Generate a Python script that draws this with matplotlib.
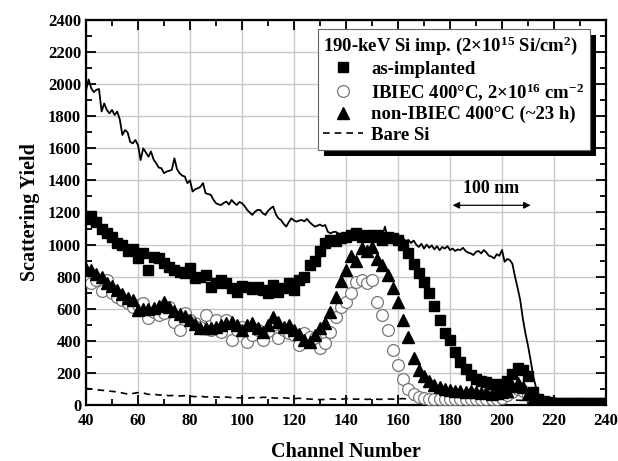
import numpy as np
import matplotlib
matplotlib.use("Agg")
import matplotlib.pyplot as plt
from matplotlib.patches import Rectangle
from matplotlib.ticker import MultipleLocator

plt.rcParams['font.family'] = ['Liberation Serif', 'DejaVu Serif']
plt.rcParams['font.weight'] = 'bold'
plt.rcParams['mathtext.fontset'] = 'custom'
plt.rcParams['mathtext.rm'] = 'Liberation Serif:bold'
plt.rcParams['mathtext.bf'] = 'Liberation Serif:bold'
plt.rcParams['mathtext.it'] = 'Liberation Serif:bold'
plt.rcParams['mathtext.default'] = 'rm'

# ---------------- data ----------------
line_channels = np.arange(40, 241, 1)
unimplanted_line = [
    1960, 2030, 1975, 1950, 1965, 1970, 1830, 1880, 1840, 1818,   # 40-49
    1839, 1808, 1829, 1780, 1683, 1714, 1700, 1640, 1631, 1652,   # 50-59
    1620, 1527, 1600, 1575, 1548, 1580, 1530, 1507, 1480, 1476,   # 60-69
    1445, 1455, 1460, 1466, 1538, 1470, 1445, 1430, 1424, 1383,   # 70-79
    1400, 1331, 1345, 1351, 1360, 1383, 1320, 1315, 1310, 1280,   # 80-89
    1258, 1250, 1247, 1260, 1268, 1250, 1278, 1260, 1247, 1265,   # 90-99
    1258, 1240, 1216, 1200, 1185, 1205, 1216, 1216, 1195, 1185,   # 100-109
    1210, 1226, 1237, 1190, 1164, 1153, 1130, 1112, 1140, 1164,   # 110-119
    1150, 1143, 1150, 1153, 1145, 1160, 1140, 1125, 1112, 1118,   # 120-129
    1125, 1115, 1122, 1080, 1070, 1078, 1080, 1070, 1065, 1060,   # 130-139
    1062, 1055, 1060, 1065, 1070, 1060, 1055, 1065, 1050, 1045,   # 140-149
    1040, 1050, 1045, 1040, 1060, 1112, 1040, 1050, 1045, 1060,   # 150-159
    1040, 1030, 1040, 1020, 1029, 1010, 1025, 1000, 985, 1005,    # 160-169
    975, 1000, 980, 995, 970, 990, 965, 985, 975, 990,            # 170-179
    966, 975, 960, 970, 966, 980, 960, 950, 945, 935,             # 180-189
    955, 960, 945, 966, 950, 930, 925, 914, 940, 930,             # 190-199
    966, 893, 910, 904, 880, 800, 730, 655, 540, 447,             # 200-209
    370, 280, 180, 114, 70, 52, 40, 35, 30, 28,                   # 210-219
    30, 27, 29, 26, 28, 30, 27, 25, 28, 26,                       # 220-229
    27, 29, 25, 27, 26, 28, 25, 27, 26, 24,                       # 230-239
    25,                                                           # 240
]

marker_channels = np.arange(40, 241, 2)
as_implanted = [
    1160, 1180, 1140, 1100, 1070, 1050, 1010, 1000, 960, 970,     # 40-58
    914, 945, 842, 920, 914, 883, 860, 840, 830, 821,             # 60-78
    852, 790, 800, 810, 738, 760, 779, 759, 730, 707,             # 80-98
    740, 738, 725, 738, 715, 696, 748, 707, 730, 759,             # 100-118
    717, 780, 800, 873, 900, 960, 1010, 1029, 1020, 1040,         # 120-138
    1050, 1060, 1070, 1050, 1060, 1045, 1060, 1030, 1050, 1040,   # 140-158
    1030, 1000, 950, 880, 820, 765, 700, 620, 530, 450,           # 160-178
    405, 332, 270, 225, 190, 165, 150, 145, 130, 125,             # 180-198
    130, 150, 195, 229, 218, 180, 80, 40, 25, 20,                 # 200-218
    15, 14, 12, 13, 11, 12, 10, 11, 12, 10,                       # 220-238
    11,                                                           # 240
]
ibiec = [
    800, 760, 780, 710, 779, 696, 675, 655, 634, 613,             # 40-58
    623, 634, 540, 582, 561, 571, 613, 519, 470, 571,             # 60-78
    530, 509, 488, 561, 467, 530, 457, 530, 405, 467,             # 80-98
    488, 395, 436, 467, 405, 460, 499, 415, 467, 450,             # 100-118
    436, 374, 446, 426, 415, 353, 384, 457, 550, 613,             # 120-138
    640, 700, 769, 779, 759, 779, 640, 560, 470, 340,             # 140-158
    250, 160, 100, 70, 52, 45, 40, 38, 40, 36,                    # 160-178
    38, 35, 37, 35, 38, 36, 35, 38, 36, 40,                       # 180-198
    45, 60, 80, 100, 90, 60, 40, 25, 15, 10,                      # 200-218
    8, 7, 6, 7, 6, 5, 6, 5, 6, 5,                                 # 220-238
    5,                                                            # 240
]
non_ibiec = [
    850, 840, 815, 800, 760, 740, 720, 690, 670, 655,             # 40-58
    590, 600, 600, 602, 620, 644, 613, 585, 565, 555,             # 60-78
    530, 505, 480, 478, 478, 488, 499, 510, 519, 499,             # 80-98
    467, 500, 509, 478, 457, 499, 550, 520, 488, 499,             # 100-118
    467, 440, 405, 395, 436, 478, 509, 582, 675, 770,             # 120-138
    840, 930, 900, 980, 960, 987, 910, 870, 810, 730,             # 140-158
    644, 530, 426, 290, 220, 180, 150, 125, 114, 100,             # 160-178
    95, 90, 85, 80, 85, 80, 75, 80, 70, 75,                       # 180-198
    80, 90, 120, 140, 110, 70, 40, 20, 15, 12,                    # 200-218
    10, 9, 8, 9, 8, 8, 7, 8, 7, 8,                                # 220-238
    7,                                                            # 240
]
bare_si = [
    104, 100, 95, 92, 88, 85, 82, 75, 68, 72,                     # 40-58
    77, 75, 66, 68, 62, 62, 58, 60, 56, 58,                       # 60-78
    55, 52, 55, 50, 52, 50, 48, 50, 46, 45,                       # 80-98
    45, 42, 46, 44, 48, 48, 44, 42, 45, 42,                       # 100-118
    40, 42, 38, 37, 35, 33, 35, 38, 36, 35,                       # 120-138
    40, 38, 36, 38, 35, 37, 36, 35, 38, 36,                       # 140-158
    38, 40, 36, 34, 33, 32, 33, 31, 32, 30,                       # 160-178
    31, 30, 32, 30, 31, 30, 29, 31, 30, 29,                       # 180-198
    30, 29, 28, 30, 28, 27, 26, 25, 24, 23,                       # 200-218
    24, 23, 22, 23, 22, 21, 22, 21, 22, 21,                       # 220-238
    21,                                                           # 240
]

x_ticks = [40, 60, 80, 100, 120, 140, 160, 180, 200, 220, 240]
y_ticks = [0, 200, 400, 600, 800, 1000, 1200, 1400, 1600, 1800, 2000, 2200, 2400]

# ---------------- figure ----------------
fig = plt.figure(figsize=(6.18, 4.61), dpi=100)
ax = fig.add_axes([86/618, 56/461, 520/618, 385/461])

ax.plot(line_channels, unimplanted_line, color='black', lw=1.3, zorder=3)
ax.plot(marker_channels, bare_si, color='black', lw=1.2, ls=(0, (4, 3)),
        label='Bare Si', zorder=3)
ax.plot(marker_channels, ibiec, ls='none', marker='o', ms=8.5,
        mfc='white', mec='#777777', mew=0.9,
        label='IBIEC 400°C, 2×10$^{16}$ cm$^{-2}$', zorder=4)
ax.plot(marker_channels, non_ibiec, ls='none', marker='^', ms=8.5,
        color='black', label='non-IBIEC 400°C (~23 h)', zorder=5)
ax.plot(marker_channels, as_implanted, ls='none', marker='s', ms=7,
        color='black', label='as-implanted', zorder=6)

ax.set_xlim(40, 240)
ax.set_ylim(0, 2400)
ax.set_xticks(x_ticks)
ax.set_yticks(y_ticks)
ax.xaxis.set_minor_locator(MultipleLocator(10))
ax.yaxis.set_minor_locator(MultipleLocator(100))
ax.tick_params(which='both', direction='in', top=True, right=True,
               labelsize=12, width=1.3)
ax.tick_params(which='major', length=7)
ax.tick_params(which='minor', length=4)
ax.tick_params(axis='x', pad=6)
for lab in ax.get_xticklabels() + ax.get_yticklabels():
    lab.set_fontweight('bold')
ax.grid(True, which='major', color='#c8c8c8', lw=1.0, zorder=0)
ax.set_axisbelow(True)
for s in ax.spines.values():
    s.set_linewidth(1.6)

ax.set_xlabel('Channel Number', fontsize=14.5, fontweight='bold', labelpad=9)
ax.set_ylabel('Scattering Yield', fontsize=14.5, fontweight='bold', labelpad=6)

# 100 nm scale arrow
ax.annotate('', xy=(181, 1245), xytext=(211, 1245),
            arrowprops=dict(arrowstyle='<|-|>', color='black', lw=0.9,
                            mutation_scale=10, shrinkA=0, shrinkB=0))
ax.text(196, 1295, '100 nm', ha='center', va='bottom', fontsize=13,
        fontweight='bold')

handles, labels = ax.get_legend_handles_labels()
order = [3, 1, 2, 0]
leg = ax.legend([handles[i] for i in order], [labels[i] for i in order],
                title='190-keV Si imp. (2×10$^{15}$ Si/cm$^{2}$)',
                loc='upper right', bbox_to_anchor=(0.969, 0.977),
                borderaxespad=0, fancybox=False, framealpha=1,
                edgecolor='#666666', prop={'size': 13.5, 'weight': 'bold'},
                title_fontproperties={'size': 13.5, 'weight': 'bold'},
                handlelength=2.1, handletextpad=0.45, labelspacing=0.18,
                borderpad=0.3)
leg._legend_box.align = 'left'
leg.get_frame().set_linewidth(0.8)
leg.set_zorder(10)

fig.canvas.draw()
bb = leg.get_window_extent().transformed(fig.transFigure.inverted())
dx, dy = 6/618, 6/461
shadow = Rectangle((bb.x0 + dx, bb.y0 - dy), bb.width, bb.height,
                   transform=fig.transFigure, facecolor='black',
                   edgecolor='none', zorder=9)
ax.add_artist(shadow)
shadow.set_clip_on(False)

fig.savefig('out.png', dpi=100)
